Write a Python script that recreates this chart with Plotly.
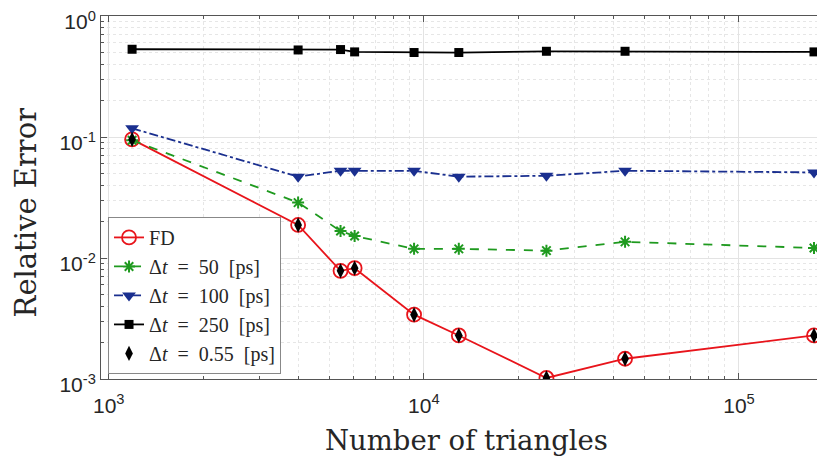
import plotly.graph_objects as go
import math

triangles = [1186, 3990, 5440, 6030, 9310, 12910, 24490, 43500, 173000]
err_fd = [0.0955, 0.01875, 0.00783, 0.00824, 0.0034, 0.00229, 0.00102, 0.00147, 0.00229]
err_50 = [0.094, 0.0287, 0.0167, 0.0152, 0.0119, 0.0119, 0.0115, 0.0136, 0.0121]
err_100 = [0.118, 0.047, 0.0526, 0.0526, 0.0525, 0.047, 0.0478, 0.0526, 0.051]
err_250 = [0.531, 0.524, 0.528, 0.505, 0.499, 0.499, 0.511, 0.511, 0.505]
err_055 = [0.0955, 0.01875, 0.00783, 0.00824, 0.0034, 0.00229, 0.00102, 0.00147, 0.00229]

names = ["FD", "Δ<i>t</i>  =  50  [ps]", "Δ<i>t</i>  =  100  [ps]",
         "Δ<i>t</i>  =  250  [ps]", "Δ<i>t</i>  =  0.55  [ps]"]

x_tickvals = [1e3, 1e4, 1e5]
x_ticktext = ["10<sup>3</sup>", "10<sup>4</sup>", "10<sup>5</sup>"]
y_tickvals = [1e-3, 1e-2, 1e-1, 1]
y_ticktext = ["10<sup>-3</sup>", "10<sup>-2</sup>", "10<sup>-1</sup>", "10<sup>0</sup>"]

x_minor = [m * 10 ** e for e in (2, 3, 4, 5) for m in range(2, 10)]
y_minor = [m * 10 ** e for e in (-3, -2, -1) for m in range(2, 10)]

RED = "#e8141b"
GREEN = "#1f9a1f"
BLUE = "#1a2f8f"
BLACK = "#000000"

fig = go.Figure()
fig.add_trace(go.Scatter(x=triangles, y=err_fd, name=names[0], mode="lines+markers",
                         line=dict(color=RED, width=1.8),
                         marker=dict(symbol="circle-open", size=14, color=RED, line=dict(width=1.8, color=RED))))
fig.add_trace(go.Scatter(x=triangles, y=err_50, name=names[1], mode="lines+markers",
                         line=dict(color=GREEN, width=1.8, dash="dash"),
                         marker=dict(symbol="asterisk-open", size=10, color=GREEN, line=dict(width=2, color=GREEN))))
fig.add_trace(go.Scatter(x=triangles, y=err_100, name=names[2], mode="lines+markers",
                         line=dict(color=BLUE, width=1.8, dash="dashdot"),
                         marker=dict(symbol="triangle-down", size=12, color=BLUE)))
fig.add_trace(go.Scatter(x=triangles, y=err_250, name=names[3], mode="lines+markers",
                         line=dict(color=BLACK, width=1.8),
                         marker=dict(symbol="square", size=9, color=BLACK)))
fig.add_trace(go.Scatter(x=triangles, y=err_055, name=names[4], mode="markers",
                         marker=dict(symbol="diamond-tall", size=11, color=BLACK)))

axis_common = dict(
    type="log", showline=True, linecolor="#555555", linewidth=1, mirror="ticks",
    ticks="inside", ticklen=6, tickcolor="#555555",
    showgrid=True, gridcolor="#e3e3e3", gridwidth=1,
    automargin=False, ticklabeloverflow="allow",
    tickfont=dict(family="Liberation Sans, Arial, sans-serif", size=21, color="#262626"),
    zeroline=False,
)
minor_common = dict(ticks="inside", ticklen=3, tickcolor="#555555", showgrid=True,
                    gridcolor="#e6e6e6", griddash="dot", gridwidth=1)

fig.update_xaxes(**axis_common, range=[math.log10(945), math.log10(187500)],
                 tickvals=x_tickvals, ticktext=x_ticktext, ticklabelstandoff=8,
                 minor=dict(**minor_common, tickvals=x_minor))
fig.update_yaxes(**axis_common, range=[-3, 0],
                 tickvals=y_tickvals, ticktext=y_ticktext, ticklabelshift=6,
                 minor=dict(**minor_common, tickvals=y_minor))

fig.update_layout(
    width=817, height=455,
    margin=dict(l=93, r=0, t=8, b=84),
    plot_bgcolor="white", paper_bgcolor="white",
    showlegend=True,
    legend=dict(x=0.0097, y=0.014, xanchor="left", yanchor="bottom",
                bgcolor="white", bordercolor="#888888", borderwidth=1,
                font=dict(family="Liberation Serif, DejaVu Serif, serif", size=20, color="#262626"),
                tracegroupgap=0, itemwidth=30),
    annotations=[
        dict(text="Relative Error", xref="paper", yref="paper", x=-0.104, y=0.458,
             textangle=-90, showarrow=False, xanchor="center", yanchor="middle",
             font=dict(family="DejaVu Serif, Liberation Serif, serif", size=29, color="#262626")),
        dict(text="Number of triangles", xref="paper", yref="paper", x=0.505, y=-0.168,
             showarrow=False, xanchor="center", yanchor="middle",
             font=dict(family="DejaVu Serif, Liberation Serif, serif", size=27.5, color="#262626")),
    ],
)

fig.write_html("out.html")
